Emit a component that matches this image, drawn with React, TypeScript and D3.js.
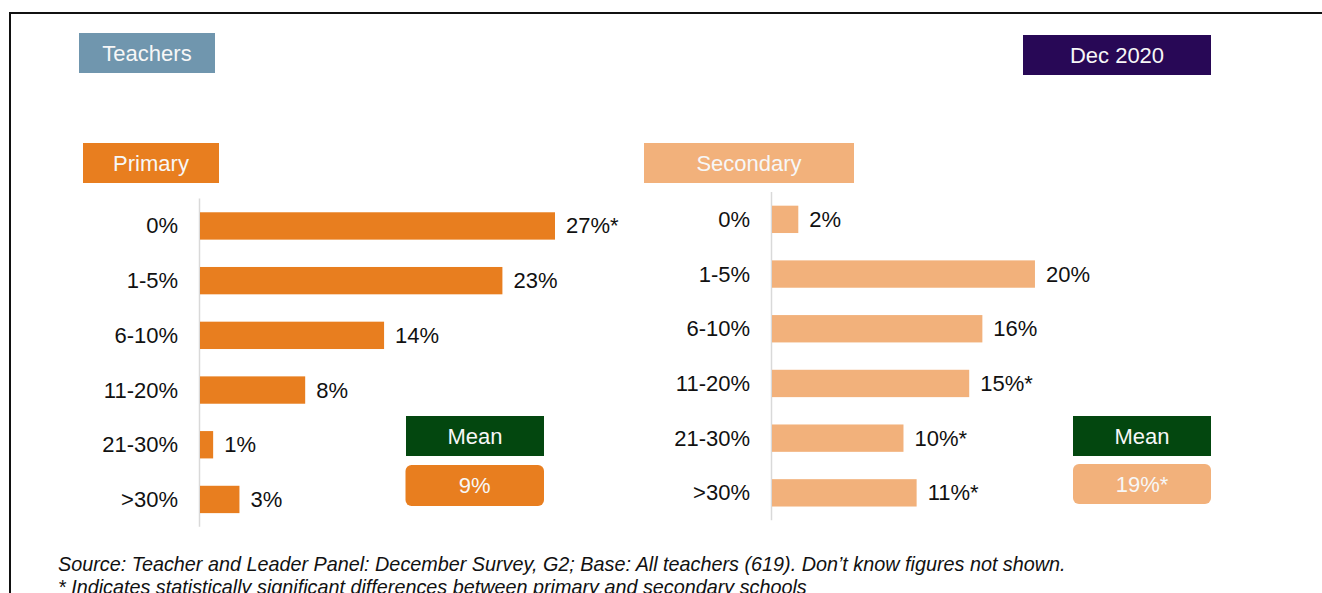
import React from "react";
import * as d3 from "d3";

const categories = ["0%", "1-5%", "6-10%", "11-20%", "21-30%", ">30%"];
const primaryValues = [27, 23, 14, 8, 1, 3];
const primaryLabels = ["27%*", "23%", "14%", "8%", "1%", "3%"];
const secondaryValues = [2, 20, 16, 15, 10, 11];
const secondaryLabels = ["2%", "20%", "16%", "15%*", "10%*", "11%*"];
const primaryMean = "9%";
const secondaryMean = "19%*";
const footerLines = [
  "Source: Teacher and Leader Panel: December Survey, G2; Base: All teachers (619). Don\u2019t know figures not shown.",
  "* Indicates statistically significant differences between primary and secondary schools",
];

const FONT = "'Liberation Sans', Arial, Helvetica, sans-serif";
const ORANGE = "#E87E1F";
const PEACH = "#F2B17B";
const GREEN = "#03470F";
const TXT = "#111111";

type PanelProps = {
  values: number[];
  labels: string[];
  color: string;
  axisX: number;
  top: number;
  bottom: number;
};

function Panel({ values, labels, color, axisX, top, bottom }: PanelProps) {
  const y = d3.scaleBand<string>().domain(categories).range([top, bottom]).paddingInner(0.5).paddingOuter(0.25);
  const x = d3.scaleLinear().domain([0, 27]).range([axisX, axisX + 355]);
  return (
    <g>
      <line x1={axisX - 0.5} x2={axisX - 0.5} y1={top} y2={bottom} stroke="#D9D9D9" strokeWidth={1.5} />
      {categories.map((c, i) => {
        const yc = (y(c) as number) + y.bandwidth() / 2;
        return (
          <g key={c}>
            <rect x={x(0)} y={y(c)} width={x(values[i]) - x(0)} height={y.bandwidth()} fill={color} />
            <text x={axisX - 22} y={yc + 7.5} textAnchor="end" fontSize={22} fill={TXT}>{c}</text>
            <text x={x(values[i]) + 11} y={yc + 7.5} fontSize={22} fill={TXT}>{labels[i]}</text>
          </g>
        );
      })}
    </g>
  );
}

function Box({ x, y, w, h, fill, text, rx = 0 }: { x: number; y: number; w: number; h: number; fill: string; text: string; rx?: number }) {
  return (
    <g>
      <rect x={x} y={y} width={w} height={h} fill={fill} rx={rx} ry={rx} />
      <text x={x + w / 2} y={y + h / 2 + 7.5} textAnchor="middle" fontSize={22} fill="#F7F7F7">{text}</text>
    </g>
  );
}

export default function App() {
  return (
    <svg width={1322} height={593} style={{ position: "absolute", left: 0, top: 0, fontFamily: FONT, background: "#fff" }}>
      <rect x={0} y={0} width={1322} height={593} fill="#fff" />
      <line x1={9} x2={1322} y1={13} y2={13} stroke="#111" strokeWidth={2} />
      <line x1={10} x2={10} y1={12} y2={593} stroke="#111" strokeWidth={2} />

      <Box x={79} y={33} w={136} h={40} fill="#7096AE" text="Teachers" />
      <Box x={1023} y={35} w={188} h={40} fill="#280856" text="Dec 2020" />
      <Box x={83} y={143} w={136} h={40} fill={ORANGE} text="Primary" />
      <Box x={644} y={143} w={210} h={40} fill={PEACH} text="Secondary" />

      <Panel values={primaryValues} labels={primaryLabels} color={ORANGE} axisX={200} top={198.6} bottom={526.8} />
      <Panel values={secondaryValues} labels={secondaryLabels} color={PEACH} axisX={772} top={192} bottom={520.2} />

      <Box x={406} y={416} w={138} h={40} fill={GREEN} text="Mean" />
      <Box x={405.5} y={465} w={138.5} h={41} fill={ORANGE} text={primaryMean} rx={6} />
      <Box x={1073} y={416} w={138} h={40} fill={GREEN} text="Mean" />
      <Box x={1073} y={464} w={138} h={40} fill={PEACH} text={secondaryMean} rx={6} />

      {footerLines.map((t, i) => (
        <text key={i} x={58} y={571 + i * 23} fontSize={19.8} fontStyle="italic" fill={TXT}>{t}</text>
      ))}
    </svg>
  );
}
